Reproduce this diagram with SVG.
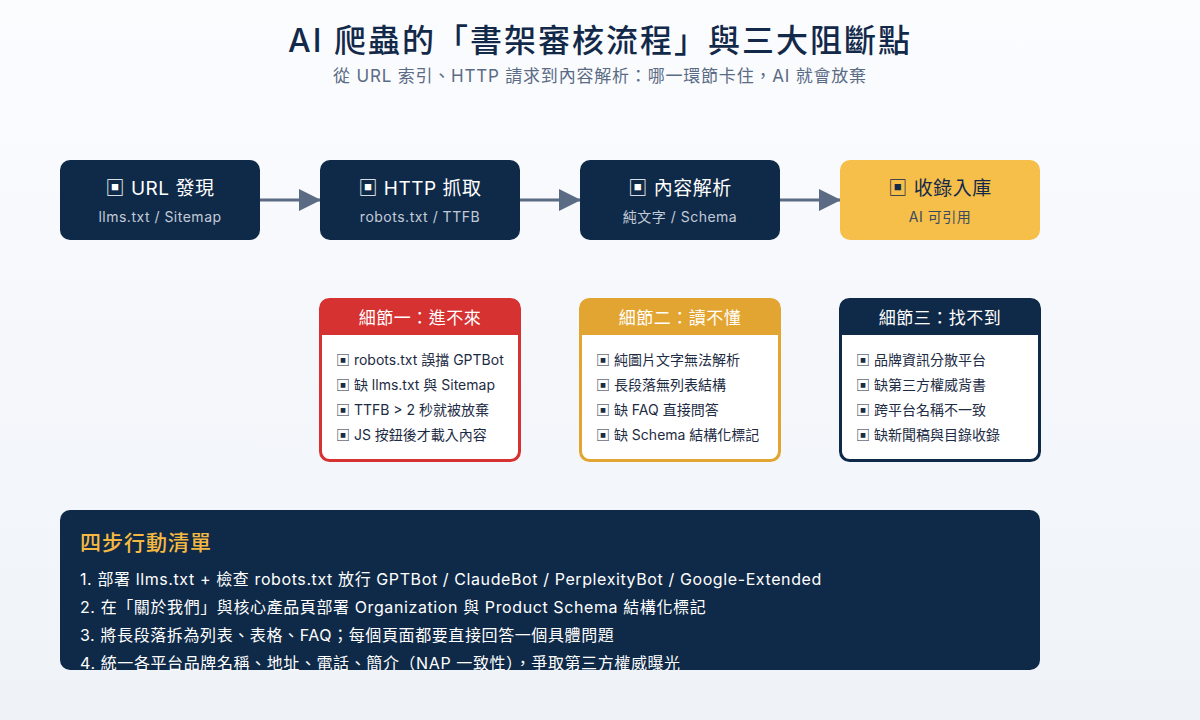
<svg xmlns="http://www.w3.org/2000/svg" width="1200" height="720" viewBox="0 0 1200 720">
<defs>
<linearGradient id="bg" x1="0" y1="0" x2="0" y2="1"><stop offset="0" stop-color="#fbfcfe"/><stop offset="1" stop-color="#eff3f8"/></linearGradient>
<marker id="ah" markerWidth="22" markerHeight="22" refX="21" refY="11" orient="auto" markerUnits="userSpaceOnUse" viewBox="0 0 22 22"><path d="M0,0 L22,11 L0,22 Z" fill="#5b6b83"/></marker>
<clipPath id="bc"><rect x="60" y="510" width="980" height="160" rx="10"/></clipPath>
</defs>
<style>
text{font-family:Inter,"Noto Sans CJK TC",sans-serif;letter-spacing:0.5px}
.nt{font-size:19px;fill:#fff;text-anchor:middle}
.ns{font-size:14px;fill:#c3cbd9;text-anchor:middle}
.ht{font-size:17px;fill:#fff;text-anchor:middle}
.it{font-size:14px;fill:#1d2b44;letter-spacing:0}
.li{font-size:16px;fill:#fff;letter-spacing:0.6px}
.cn{stroke:#5b6b83;stroke-width:3;fill:none}
</style>
<rect width="1200" height="720" fill="url(#bg)"/>
<text x="600" y="52" text-anchor="middle" font-size="32" font-weight="500" fill="#13294a" style="letter-spacing:2px">AI 爬蟲的「書架審核流程」與三大阻斷點</text>
<text x="600" y="82" text-anchor="middle" font-size="17" fill="#5a6b85" style="letter-spacing:0.8px">從 URL 索引、HTTP 請求到內容解析：哪一環節卡住，AI 就會放棄</text>
<g id="connectors">
<line class="cn" x1="260" y1="200" x2="320" y2="200" marker-end="url(#ah)"/>
<line class="cn" x1="520" y1="200" x2="580" y2="200" marker-end="url(#ah)"/>
<line class="cn" x1="780" y1="200" x2="840" y2="200" marker-end="url(#ah)"/>
</g>
<g id="n1"><rect x="60" y="160" width="200" height="80" rx="10" fill="#0f2a48"/><text class="nt" x="160" y="195">▣ URL 發現</text><text class="ns" x="160" y="222">llms.txt / Sitemap</text></g>
<g id="n2"><rect x="320" y="160" width="200" height="80" rx="10" fill="#0f2a48"/><text class="nt" x="420" y="195">▣ HTTP 抓取</text><text class="ns" x="420" y="222">robots.txt / TTFB</text></g>
<g id="n3"><rect x="580" y="160" width="200" height="80" rx="10" fill="#0f2a48"/><text class="nt" x="680" y="195">▣ 內容解析</text><text class="ns" x="680" y="222">純文字 / Schema</text></g>
<g id="n4"><rect x="840" y="160" width="200" height="80" rx="10" fill="#f5bf4a"/><text class="nt" x="940" y="195" style="fill:#13294a">▣ 收錄入庫</text><text class="ns" x="940" y="222" style="fill:#3a4a60">AI 可引用</text></g>
<g id="d1"><rect x="320.5" y="299.5" width="199" height="161" rx="9" fill="#fff" stroke="#d63232" stroke-width="3"/><path d="M320,335 V308 Q320,299 329,299 H511 Q520,299 520,308 V335 Z" fill="#d63232"/><text class="ht" x="420" y="324">細節一：進不來</text>
<text class="it" x="336" y="365">▣ robots.txt 誤擋 GPTBot</text><text class="it" x="336" y="390">▣ 缺 llms.txt 與 Sitemap</text><text class="it" x="336" y="415">▣ TTFB &gt; 2 秒就被放棄</text><text class="it" x="336" y="440">▣ JS 按鈕後才載入內容</text></g>
<g id="d2"><rect x="580.5" y="299.5" width="199" height="161" rx="9" fill="#fff" stroke="#e3a532" stroke-width="3"/><path d="M580,335 V308 Q580,299 589,299 H771 Q780,299 780,308 V335 Z" fill="#e3a532"/><text class="ht" x="680" y="324">細節二：讀不懂</text>
<text class="it" x="596" y="365">▣ 純圖片文字無法解析</text><text class="it" x="596" y="390">▣ 長段落無列表結構</text><text class="it" x="596" y="415">▣ 缺 FAQ 直接問答</text><text class="it" x="596" y="440">▣ 缺 Schema 結構化標記</text></g>
<g id="d3"><rect x="840.5" y="299.5" width="199" height="161" rx="9" fill="#fff" stroke="#0f2a48" stroke-width="3"/><path d="M840,335 V308 Q840,299 849,299 H1031 Q1040,299 1040,308 V335 Z" fill="#0f2a48"/><text class="ht" x="940" y="324">細節三：找不到</text>
<text class="it" x="856" y="365">▣ 品牌資訊分散平台</text><text class="it" x="856" y="390">▣ 缺第三方權威背書</text><text class="it" x="856" y="415">▣ 跨平台名稱不一致</text><text class="it" x="856" y="440">▣ 缺新聞稿與目錄收錄</text></g>
<g id="actions"><rect x="60" y="510" width="980" height="160" rx="10" fill="#0f2a48"/>
<text x="80" y="550" font-size="21" font-weight="500" fill="#f5b942" style="letter-spacing:1px">四步行動清單</text>
<g clip-path="url(#bc)">
<text class="li" x="80" y="585">1. 部署 llms.txt + 檢查 robots.txt 放行 GPTBot / ClaudeBot / PerplexityBot / Google-Extended</text>
<text class="li" x="80" y="613">2. 在「關於我們」與核心產品頁部署 Organization 與 Product Schema 結構化標記</text>
<text class="li" x="80" y="641">3. 將長段落拆為列表、表格、FAQ；每個頁面都要直接回答一個具體問題</text>
<text class="li" x="80" y="669">4. 統一各平台品牌名稱、地址、電話、簡介（NAP 一致性），爭取第三方權威曝光</text>
</g></g>
</svg>
